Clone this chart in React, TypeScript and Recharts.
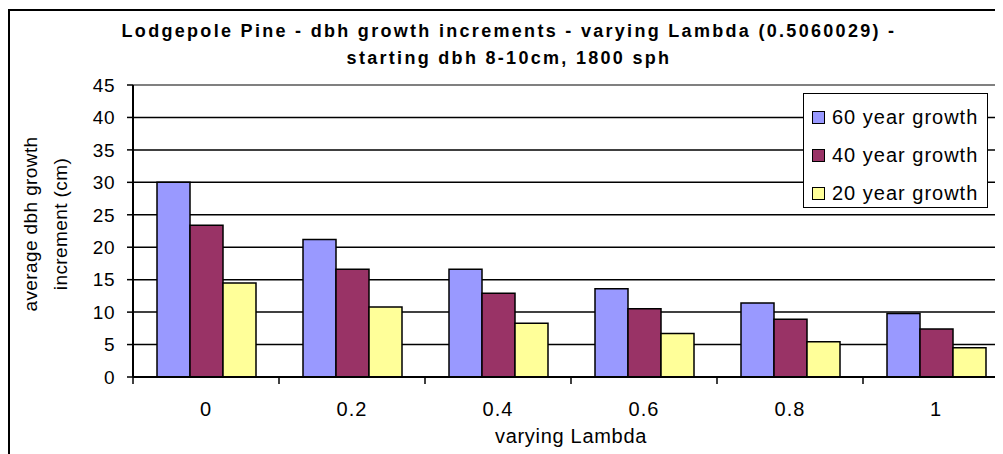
import { Bar, BarChart, CartesianGrid, Legend, ReferenceLine, XAxis, YAxis } from "recharts";

const lambdas = ["0", "0.2", "0.4", "0.6", "0.8", "1"];
const growth60 = [30, 21.2, 16.6, 13.6, 11.4, 9.8];
const growth40 = [23.4, 16.6, 12.9, 10.5, 8.9, 7.4];
const growth20 = [14.5, 10.8, 8.3, 6.7, 5.45, 4.5];
const seriesNames = ["60 year growth", "40 year growth", "20 year growth"];
const yTicks = [0, 5, 10, 15, 20, 25, 30, 35, 40, 45];

const data = lambdas.map((lambda, i) => ({
  lambda,
  g60: growth60[i],
  g40: growth40[i],
  g20: growth20[i]
}));

const FONT = "Arial, 'Liberation Sans', sans-serif";
const CHART_W = 1010;
const CHART_H = 446;
const MARGIN = { top: 77, right: 9, bottom: 7, left: 65 };
const Y_AXIS_W = 60;
const X_AXIS_H = 70;
const BAND = (CHART_W - MARGIN.left - Y_AXIS_W - MARGIN.right) / lambdas.length;

function LambdaTick(props: any) {
  const { x, y, payload, index } = props;
  const edge = x - BAND / 2;
  return (
    <g>
      <line x1={edge} x2={edge} y1={y} y2={y + 7} stroke="#000" strokeWidth={1.5} />
      {index === lambdas.length - 1 && (
        <line x1={x + BAND / 2} x2={x + BAND / 2} y1={y} y2={y + 7} stroke="#000" strokeWidth={1.5} />
      )}
      <text x={x} y={y + 32} textAnchor="middle" dominantBaseline="central" fontSize={20} letterSpacing={1} fill="#000" fontFamily={FONT}>
        {payload.value}
      </text>
    </g>
  );
}

function YTitle(props: any) {
  const vb = props.viewBox ?? { y: MARGIN.top, height: 292 };
  const cy = vb.y + vb.height / 2 - 7;
  const lines = [
    { cx: 22, text: "average dbh growth" },
    { cx: 52, text: "increment (cm)" }
  ];
  return (
    <g>
      {lines.map((l) => (
        <text
          key={l.text}
          x={l.cx}
          y={cy}
          transform={`rotate(-90, ${l.cx}, ${cy})`}
          textAnchor="middle"
          dominantBaseline="central"
          fontSize={19}
          letterSpacing={0.4}
          fill="#000"
          fontFamily={FONT}
        >
          {l.text}
        </text>
      ))}
    </g>
  );
}

function LegendBox({ payload }: any) {
  const items = [...(payload ?? [])].sort(
    (a: any, b: any) => seriesNames.indexOf(a.value) - seriesNames.indexOf(b.value)
  );
  return (
    <div
      style={{
        border: "1.5px solid #000",
        background: "#fff",
        height: 115,
        paddingTop: 4,
        boxSizing: "border-box",
        fontFamily: FONT
      }}
    >
      {items.map((entry: any) => (
        <div key={entry.value} style={{ display: "flex", alignItems: "center", height: 38 }}>
          <span
            style={{
              width: 13,
              height: 13,
              marginLeft: 8,
              marginRight: 7,
              background: entry.color,
              border: "1.5px solid #000",
              boxSizing: "border-box"
            }}
          />
          <span style={{ fontSize: 20, letterSpacing: 1, color: "#000" }}>{entry.value}</span>
        </div>
      ))}
    </div>
  );
}

export default function App() {
  return (
    <div style={{ position: "relative", width: 995, height: CHART_H, overflow: "hidden", fontFamily: FONT }}>
      <div
        style={{
          position: "absolute",
          left: 0,
          top: 10,
          width: 1002,
          textAlign: "center",
          fontSize: 18,
          fontWeight: "bold",
          lineHeight: "27px",
          letterSpacing: 2.3,
          color: "#000"
        }}
      >
        Lodgepole Pine - dbh growth increments - varying Lambda (0.5060029) -
        <br />
        starting dbh 8-10cm, 1800 sph
      </div>
      <BarChart width={CHART_W} height={CHART_H} data={data} margin={MARGIN} barCategoryGap={24} barGap={0}>
        <CartesianGrid vertical={false} stroke="#000" strokeWidth={1.5} />
        <XAxis
          dataKey="lambda"
          height={X_AXIS_H}
          interval={0}
          tickLine={false}
          tickSize={0}
          tickMargin={0}
          axisLine={{ stroke: "#000", strokeWidth: 2 }}
          tick={<LambdaTick />}
          label={{ value: "varying Lambda", position: "insideBottom", offset: 4, fill: "#000", fontSize: 20, letterSpacing: 0.7, fontFamily: FONT }}
        />
        <YAxis
          width={Y_AXIS_W}
          domain={[0, 45]}
          ticks={yTicks}
          interval={0}
          tickSize={6}
          tickMargin={12}
          axisLine={{ stroke: "#000", strokeWidth: 2 }}
          tickLine={{ stroke: "#000", strokeWidth: 1.5 }}
          tick={{ fill: "#000", fontSize: 19, letterSpacing: 0.5, fontFamily: FONT }}
          label={<YTitle />}
        />
        <ReferenceLine y={45} stroke="#808080" strokeWidth={2} />
        <Legend
          layout="horizontal"
          align="center"
          verticalAlign="middle"
          content={<LegendBox />}
          wrapperStyle={{ position: "absolute", left: 795, top: 85, width: 185, height: 115 }}
        />
        <Bar dataKey="g60" name={seriesNames[0]} fill="#9999FF" stroke="#000" strokeWidth={1.5} isAnimationActive={false} />
        <Bar dataKey="g40" name={seriesNames[1]} fill="#993366" stroke="#000" strokeWidth={1.5} isAnimationActive={false} />
        <Bar dataKey="g20" name={seriesNames[2]} fill="#FFFF99" stroke="#000" strokeWidth={1.5} isAnimationActive={false} />
      </BarChart>
      <div
        style={{
          position: "absolute",
          left: 0,
          top: 1,
          right: 0,
          bottom: 0,
          borderLeft: "2px solid #000",
          borderTop: "2px solid #000",
          pointerEvents: "none"
        }}
      />
    </div>
  );
}
